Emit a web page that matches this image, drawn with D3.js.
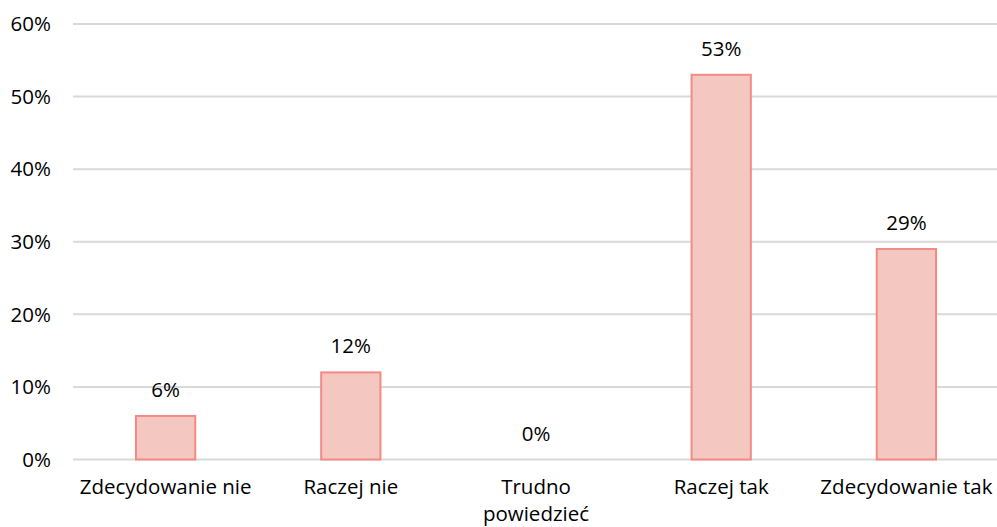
<!DOCTYPE html>
<html><head><meta charset="utf-8">
<script src="https://cdn.jsdelivr.net/npm/d3@7"></script>
<style>body{margin:0;background:#fff}svg{display:block}text{font-family:"Open Sans",sans-serif;fill:#000}</style>
</head><body>
<svg id="c" width="997" height="527"></svg>
<script>
const categories = [["Zdecydowanie nie"], ["Raczej nie"], ["Trudno", "powiedzieć"], ["Raczej tak"], ["Zdecydowanie tak"]];
const values = [6, 12, 0, 53, 29];
const yTicks = [0, 10, 20, 30, 40, 50, 60];

const svg = d3.select("#c");
const x = d3.scaleBand().domain(d3.range(categories.length)).range([73, 999]).paddingInner(0.68).paddingOuter(0.34);
const y = d3.scaleLinear().domain([0, 60]).range([459.5, 24]);
const fs = 20.5;

svg.append("g").selectAll("line").data(yTicks).join("line")
  .attr("x1", 73).attr("x2", 997).attr("y1", d => y(d)).attr("y2", d => y(d))
  .attr("stroke", "#d9d9d9").attr("stroke-width", 2);
svg.append("g").selectAll("text").data(yTicks).join("text")
  .attr("x", 51).attr("y", d => y(d)).attr("dy", "0.35em").attr("text-anchor", "end")
  .attr("font-size", fs).text(d => d + "%");

svg.append("g").selectAll("rect").data(values).join("rect")
  .attr("x", (d, i) => x(i)).attr("width", x.bandwidth())
  .attr("y", d => y(d)).attr("height", d => y(0) - y(d))
  .attr("fill", "#f4c7c1").attr("stroke", "#f28a86").attr("stroke-width", 2)
  .attr("display", d => d === 0 ? "none" : null);

svg.append("g").selectAll("text").data(values).join("text")
  .attr("x", (d, i) => x(i) + x.bandwidth() / 2).attr("y", d => y(d) - 19)
  .attr("text-anchor", "middle").attr("font-size", fs).text(d => d + "%");

const lab = svg.append("g").selectAll("text").data(categories).join("text")
  .attr("x", (d, i) => x(i) + x.bandwidth() / 2).attr("y", 494)
  .attr("text-anchor", "middle").attr("font-size", fs);
lab.selectAll("tspan").data(d => d).join("tspan")
  .attr("x", function() { return d3.select(this.parentNode).attr("x"); })
  .attr("dy", (d, i) => i === 0 ? 0 : 27).text(d => d);
</script>
</body></html>
